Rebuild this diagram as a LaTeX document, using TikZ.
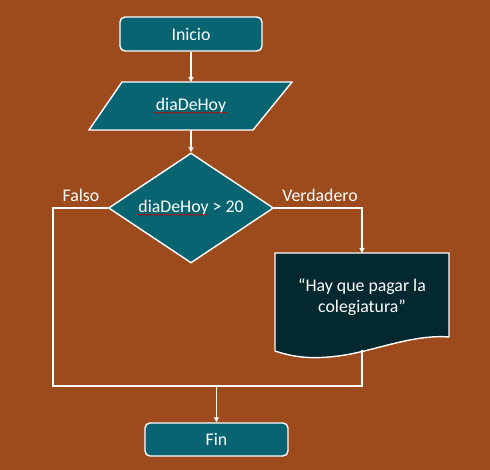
\documentclass[tikz,border=0pt]{standalone}
\usepackage{fontspec}
\setmainfont{Carlito}
\usetikzlibrary{shapes.geometric,arrows.meta,decorations.pathmorphing}
\definecolor{bgc}{RGB}{157,74,29}
\definecolor{tealc}{RGB}{9,100,113}
\definecolor{darkc}{RGB}{4,40,47}
\begin{document}
\begin{tikzpicture}[x=1pt,y=-1pt,
  every node/.style={font=\fontsize{17.8}{21}\selectfont, text=white},
  box/.style={draw=white, line width=1.4pt, fill=tealc},
  term/.style={box, rectangle, rounded corners=5pt, inner sep=0pt},
  cond/.style={box, diamond, minimum width=165pt, minimum height=110pt, inner sep=0pt},
  conn/.style={draw=white, line width=1.4pt},
  arr/.style={conn, -{Triangle[length=5pt,width=5pt]}},
  squig/.style={draw=red!80!black, line width=0.5pt, decorate,
    decoration={snake, amplitude=0.6pt, segment length=2.5pt}}
]
\fill[bgc] (0,0) rectangle (490,470);
\useasboundingbox (0,0) rectangle (490,470);

% Inicio
\node[term, minimum width=142pt, minimum height=34pt] (ini) at (191,34) {Inicio};

% parallelogram
\path[box] (122,82) -- (292,82) -- (253,130) -- (89,130) -- cycle;
\node (par) at (191,106) {diaDeHoy};
\draw[squig] ([xshift=-37pt,yshift=-2pt]par.base) -- ([xshift=37pt,yshift=-2pt]par.base);

% decision
\node[cond] (dec) at (191,208) {};
\node (dect) at (191,208) {diaDeHoy > 20};
\draw[squig] ([xshift=-54pt,yshift=-2pt]dect.base) -- ([xshift=17pt,yshift=-2pt]dect.base);

% document
\coordinate (dtop) at (362,253);
\coordinate (dbot) at (362,350);
\path[draw=white, line width=1.4pt, fill=darkc]
  (275,253) -- (449,253) -- (449,337)
  .. controls (412,334) and (372,352) .. (338,356)
  .. controls (308,360) and (290,356) .. (275,351) -- cycle;
\node[align=center] (doc) at (362,297) {“Hay que pagar la\\colegiatura”};

% Fin
\node[term, minimum width=143pt, minimum height=33pt] (fin) at (216.5,439.5) {Fin};

% labels
\node (f) at (81,195) {Falso};
\node (v) at (320,195) {Verdadero};

% connectors
\coordinate (lc) at (53,208);
\coordinate (ll) at (53,386);
\coordinate (rc) at (362,208);
\coordinate (rl) at (362,386);
\coordinate (m) at (216.5,386);
\draw[arr] (ini.south) -- (191,82);
\draw[arr] (191,130) -- (dec.north);
\draw[arr] (dec.east) -- (rc) -- (dtop);
\draw[conn] (dec.west) -- (lc) -- (ll) -- (rl) -- (dbot);
\draw[arr] (m) -- (fin.north);
\end{tikzpicture}
\end{document}
